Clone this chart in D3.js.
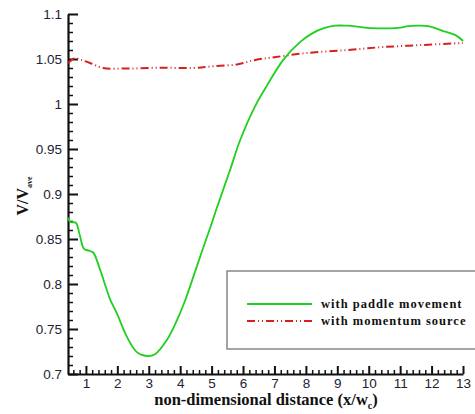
<!DOCTYPE html>
<html>
<head>
<meta charset="utf-8">
<script src="https://cdn.jsdelivr.net/npm/d3@7"></script>
<style>
  html, body { margin: 0; padding: 0; background: #fff; }
  svg { display: block; }
</style>
</head>
<body>
<svg id="chart" width="475" height="414"></svg>
<script>
// Velocity ratio along the channel, two forcing methods
const paddleX = [0.43, 0.5, 0.68, 0.8, 0.94, 1.1, 1.23, 1.45, 1.65, 1.77, 1.99, 2.31, 2.63, 2.95, 3.2, 3.58, 3.9, 4.16, 4.38, 4.7, 5.0, 5.14, 5.59, 5.91, 6.39, 6.77, 7.28, 7.82, 8.23, 8.55, 8.93, 9.3, 9.63, 9.95, 10.5, 10.94, 11.26, 11.6, 11.96, 12.37, 12.76, 13.0];
const paddleV = [0.874, 0.869, 0.868, 0.855, 0.839, 0.837, 0.835, 0.816, 0.795, 0.783, 0.767, 0.741, 0.724, 0.720, 0.722, 0.738, 0.760, 0.782, 0.804, 0.837, 0.867, 0.882, 0.927, 0.960, 0.998, 1.021, 1.049, 1.069, 1.079, 1.084, 1.087, 1.087, 1.086, 1.0845, 1.084, 1.0845, 1.0865, 1.087, 1.086, 1.081, 1.0765, 1.070];

const sourceX = [0.43, 0.55, 0.65, 0.85, 1.13, 1.54, 2.31, 3.36, 4.41, 5.05, 5.81, 6.39, 7.0, 8.04, 9.32, 10.46, 11.74, 13.0];
const sourceV = [1.0456, 1.049, 1.051, 1.049, 1.0456, 1.040, 1.0394, 1.0403, 1.040, 1.042, 1.044, 1.049, 1.052, 1.0567, 1.060, 1.0633, 1.0656, 1.0678];

const xTicks = [1, 2, 3, 4, 5, 6, 7, 8, 9, 10, 11, 12, 13];
const yTicks = [0.7, 0.75, 0.8, 0.85, 0.9, 0.95, 1, 1.05, 1.1];
const seriesNames = ["with paddle movement", "with momentum source"];

const svg = d3.select("#chart");
const plotLeft = 68, plotRight = 463, plotTop = 14, plotBottom = 374;

const x = d3.scaleLinear().domain([0.43, 13]).range([plotLeft, plotRight]);
const y = d3.scaleLinear().domain([0.7, 1.1]).range([plotBottom, plotTop]);

const tickFont = "'Liberation Sans', Arial, sans-serif";
const labelFont = "'Liberation Serif', 'Times New Roman', serif";
const tickColor = "#222233";

// minor ticks
const xMinor = d3.range(0.6, 13.001, 0.2).filter(v => Math.abs(v - Math.round(v)) > 1e-6);
const yMinor = d3.range(0.7, 1.1001, 0.01).filter(v => Math.abs(v * 20 - Math.round(v * 20)) > 1e-6);

const gx = svg.append("g").attr("transform", `translate(0,${plotBottom})`);
gx.call(d3.axisBottom(x).tickValues(xMinor).tickSizeInner(-4).tickSizeOuter(0).tickFormat(""));
gx.call(g => g.selectAll(".domain").remove());
const gx2 = svg.append("g").attr("transform", `translate(0,${plotBottom})`);
gx2.call(d3.axisBottom(x).tickValues(xTicks).tickSizeInner(-8).tickSizeOuter(0).tickPadding(4).tickFormat(d3.format("d")));

const gy = svg.append("g").attr("transform", `translate(${plotLeft},0)`);
gy.call(d3.axisLeft(y).tickValues(yMinor).tickSizeInner(-5).tickSizeOuter(0).tickFormat(""));
gy.call(g => g.selectAll(".domain").remove());
const gy2 = svg.append("g").attr("transform", `translate(${plotLeft},0)`);
gy2.call(d3.axisLeft(y).tickValues(yTicks).tickSizeInner(-10).tickSizeOuter(0).tickPadding(6).tickFormat(d => String(+d.toFixed(2))));

[gx, gx2, gy, gy2].forEach(g => {
  g.selectAll("line").attr("stroke", "#111").attr("stroke-width", 1.5);
  g.selectAll(".domain").attr("stroke", "#111").attr("stroke-width", 2.2);
  g.selectAll("text").attr("fill", tickColor).style("font-family", tickFont).style("font-size", "13.5px");
});
gx2.selectAll("line").attr("stroke-width", 2);
gy2.selectAll("line").attr("stroke-width", 2);

// series
const line = d3.line().x(d => x(d[0])).y(d => y(d[1])).curve(d3.curveCatmullRom.alpha(0.5));

svg.append("path")
  .datum(sourceX.map((v, i) => [v, sourceV[i]]))
  .attr("d", line)
  .attr("fill", "none")
  .attr("stroke", "#d61f1f")
  .attr("stroke-width", 2)
  .attr("stroke-dasharray", "8,3,1,3,1,3");

svg.append("path")
  .datum(paddleX.map((v, i) => [v, paddleV[i]]))
  .attr("d", line)
  .attr("fill", "none")
  .attr("stroke", "#1fd01f")
  .attr("stroke-width", 1.8);

// legend
const lg = svg.append("g");
lg.append("rect")
  .attr("x", 227).attr("y", 271).attr("width", 260).attr("height", 78)
  .attr("fill", "#fff").attr("stroke", "#888").attr("stroke-width", 1.5);
const legendStyles = [
  { color: "#1fd01f", dash: null },
  { color: "#d61f1f", dash: "8,3,1,3,1,3" }
];
seriesNames.forEach((name, i) => {
  const yy = 304 + i * 17;
  lg.append("line")
    .attr("x1", 247).attr("x2", 312).attr("y1", yy).attr("y2", yy)
    .attr("stroke", legendStyles[i].color).attr("stroke-width", 1.8)
    .attr("stroke-dasharray", legendStyles[i].dash);
  lg.append("text")
    .attr("x", 321).attr("y", yy + 4)
    .style("font-family", labelFont).style("font-weight", "bold").style("font-size", "12.5px")
    .style("letter-spacing", "1px")
    .attr("fill", "#111")
    .text(name);
});

// axis titles
const xt = svg.append("text")
  .attr("x", 266).attr("y", 405)
  .attr("text-anchor", "middle")
  .style("font-family", labelFont).style("font-weight", "bold").style("font-size", "16.5px")
  .attr("fill", "#111");
xt.append("tspan").text("non-dimensional distance (x/w");
xt.append("tspan").attr("dy", 4).style("font-size", "10px").text("c");
xt.append("tspan").attr("dy", -4).text(")");

const yt = svg.append("text")
  .attr("transform", "translate(28,196) rotate(-90)")
  .attr("text-anchor", "middle")
  .style("font-family", labelFont).style("font-weight", "bold").style("font-size", "16px")
  .attr("fill", "#111");
yt.append("tspan").text("V/V");
yt.append("tspan").attr("dy", 4).style("font-size", "8px").text("ave");
</script>
</body>
</html>
